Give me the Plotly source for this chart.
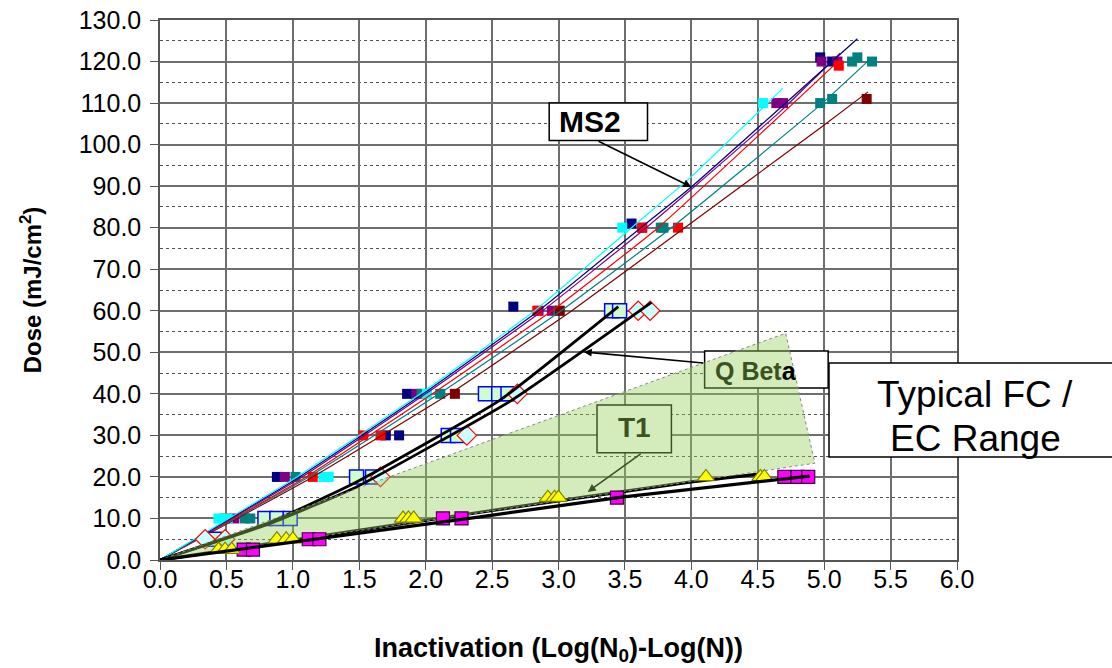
import plotly.graph_objects as go

# ---------------- data ----------------
# MS2 series (dose levels vs inactivation)
ms2_navy_x = [0.88, 1.70, 1.80, 1.86, 2.66, 3.55, 4.97, 5.06]
ms2_navy_y = [20, 30, 30, 40, 61, 81, 121, 120]
ms2_purple_x = [0.56, 0.94, 1.93, 2.85, 2.95, 3.63, 4.64, 4.69, 4.98, 5.10]
ms2_purple_y = [10, 20, 40, 60, 60, 80, 110, 110, 120, 120]
ms2_cyan_x = [0.44, 0.51, 1.23, 1.27, 2.01, 3.48, 4.54]
ms2_cyan_y = [10, 10, 20, 20, 40, 80, 110]
ms2_teal_x = [0.64, 0.68, 1.02, 1.97, 2.11, 3.00, 3.77, 3.79, 4.97, 5.06, 5.21, 5.25, 5.36]
ms2_teal_y = [10, 10, 20, 40, 40, 60, 80, 80, 110, 111, 120, 121, 120]
ms2_red_x = [0.49, 1.15, 1.53, 1.66, 2.84, 3.63, 3.90, 5.11]
ms2_red_y = [10, 20, 30, 30, 60, 80, 80, 119]
ms2_dred_x = [2.22, 3.01, 5.32]
ms2_dred_y = [40, 60, 111]

# MS2 trend lines
ln_cyan_x = [0, 1.03, 1.96, 2.82, 3.55, 3.99, 4.69]
ln_cyan_y = [0, 20, 40, 60, 80, 92, 113.6]
ln_navy_x = [0, 1.05, 1.98, 2.85, 3.62, 4.00, 5.25]
ln_navy_y = [0, 20, 40, 60, 80, 89.8, 125.5]
ln_purple_x = [0, 1.07, 2.00, 2.88, 3.66, 4.02, 4.67, 5.12]
ln_purple_y = [0, 20, 40, 60, 80, 89.8, 108, 122]
ln_red_x = [0, 1.10, 2.05, 2.95, 3.75, 4.82, 5.12]
ln_red_y = [0, 20, 40, 60, 80, 111.5, 120.5]
ln_teal_x = [0, 1.12, 2.10, 3.02, 3.85, 4.97, 5.36]
ln_teal_y = [0, 20, 40, 60, 80, 109.5, 121]
ln_dred_x = [0, 1.15, 2.18, 3.10, 3.95, 4.97, 5.33]
ln_dred_y = [0, 20, 40, 60, 80, 104, 112.7]

# Q Beta
qb_sq_x = [0.41, 0.79, 0.88, 0.98, 1.48, 1.60, 2.17, 2.24, 2.45, 2.55, 2.62, 3.40, 3.46]
qb_sq_y = [5, 10, 10, 10, 20, 20, 30, 30, 40, 40, 40, 60, 60]
qb_di_x = [0.34, 0.49, 1.66, 2.31, 2.69, 3.60, 3.69]
qb_di_y = [5, 5, 20, 30, 40, 60, 60]
qb_lnA_x = [0, 0.83, 1.48, 2.56, 3.45]
qb_lnA_y = [0, 9.1, 18.8, 38.5, 61]
qb_lnB_x = [0, 0.83, 1.48, 2.65, 3.70]
qb_lnB_y = [0, 8.8, 17.6, 38.5, 62]

# T1
t1_tri_x = [0.44, 0.49, 0.54, 0.88, 0.95, 1.00, 1.83, 1.87, 1.91, 2.92, 2.97, 3.00, 4.11, 4.52, 4.55]
t1_tri_y = [2.5, 2.5, 2.5, 5, 5, 5, 10, 10, 10, 15, 15, 15, 20, 20, 20]
t1_sq_x = [0.63, 0.70, 1.12, 1.20, 2.13, 2.27, 3.44, 4.70, 4.80, 4.88]
t1_sq_y = [2.5, 2.5, 5, 5, 10, 10, 15, 20, 20, 20]
t1_up_x = [0, 2.41, 4.00, 4.55]
t1_up_y = [0, 11.5, 18.8, 20.8]
t1_lo_x = [0, 2.41, 3.49, 4.89]
t1_lo_y = [0, 10.4, 15.2, 20.2]

# Typical FC / EC range region
fc_x = [0, 4.71, 4.93, 0]
fc_y = [0, 54.6, 23.3, 0]

x_ticks = [0.0, 0.5, 1.0, 1.5, 2.0, 2.5, 3.0, 3.5, 4.0, 4.5, 5.0, 5.5, 6.0]
y_ticks = [0, 10, 20, 30, 40, 50, 60, 70, 80, 90, 100, 110, 120, 130]

FONT = "Liberation Sans, Arial, sans-serif"
DKGREEN = "#3b5323"

fig = go.Figure()

def markers(x, y, symbol, size, fill, line, lw=1):
    fig.add_trace(go.Scatter(x=x, y=y, mode="markers", showlegend=False, hoverinfo="skip",
                             marker=dict(symbol=symbol, size=size, color=fill,
                                         line=dict(color=line, width=lw))))

def line(x, y, color, width):
    fig.add_trace(go.Scatter(x=x, y=y, mode="lines", showlegend=False, hoverinfo="skip",
                             line=dict(color=color, width=width, shape="spline", smoothing=0.4)))

# MS2 markers
for xs, ys, c in [(ms2_navy_x, ms2_navy_y, "#000080"), (ms2_purple_x, ms2_purple_y, "#800080"),
                  (ms2_teal_x, ms2_teal_y, "#008080"), (ms2_red_x, ms2_red_y, "#ff0000"),
                  (ms2_dred_x, ms2_dred_y, "#800000"), (ms2_cyan_x, ms2_cyan_y, "#00ffff")]:
    markers(xs, ys, "square", 10, c, c, 0)
# MS2 lines
for xs, ys, c in [(ln_dred_x, ln_dred_y, "#800000"), (ln_teal_x, ln_teal_y, "#008080"),
                  (ln_red_x, ln_red_y, "#ff0000"), (ln_purple_x, ln_purple_y, "#800080"),
                  (ln_navy_x, ln_navy_y, "#000080"), (ln_cyan_x, ln_cyan_y, "#00ffff")]:
    line(xs, ys, c, 1.2)

# Q Beta
markers(qb_sq_x, qb_sq_y, "square", 14, "#ccffcc", "#0000ff", 1.5)
markers(qb_di_x, qb_di_y, "diamond", 15, "#ccffff", "#ff0000", 1.2)
line(qb_lnA_x, qb_lnA_y, "black", 2.8)
line(qb_lnB_x, qb_lnB_y, "black", 2.8)

# T1 upper line (under the shaded range)
line(t1_up_x, t1_up_y, "black", 3.2)

# shaded FC/EC range
fig.add_trace(go.Scatter(x=fc_x, y=fc_y, mode="lines", fill="toself", showlegend=False,
                         hoverinfo="skip", fillcolor="rgba(148,208,88,0.4)",
                         line=dict(color="#888888", width=1, dash="dot")))

# T1 markers and lower line
markers(t1_sq_x, t1_sq_y, "square", 13, "#ff00ff", "#400040", 1.2)
markers(t1_tri_x, t1_tri_y, "triangle-up", 15, "#ffff00", "#808000", 1.2)
line(t1_lo_x, t1_lo_y, "black", 3.2)

# ---------------- label boxes ----------------
fig.add_shape(type="rect", xref="x", yref="y", x0=2.93, x1=3.67, y0=101.0, y1=110.0,
              line=dict(color="black", width=1.5), fillcolor="white", layer="between")
fig.add_shape(type="rect", xref="x", yref="y", x0=4.10, x1=5.03, y0=41.4, y1=50.3,
              line=dict(color="black", width=1.5), fillcolor="white", layer="between")
fig.add_shape(type="rect", xref="x", yref="y", x0=3.29, x1=3.85, y0=25.8, y1=37.3,
              line=dict(color="black", width=1.5), fillcolor="white", layer="between")
fig.add_shape(type="rect", xref="paper", yref="paper", x0=0.8394, x1=1.35, y0=0.1907, y1=0.3648,
              line=dict(color="black", width=1.5), fillcolor="white", layer="above")

ann = []
ann.append(dict(x=2.99, y=105.6, xref="x", yref="y", text="<b>MS2</b>", showarrow=False,
                xanchor="left", yanchor="middle", font=dict(family=FONT, size=30, color="black")))
ann.append(dict(x=4.16, y=45.4, xref="x", yref="y",
                text="<b><span style='color:%s'>Q Bet</span>a</b>" % DKGREEN, showarrow=False,
                xanchor="left", yanchor="middle", font=dict(family=FONT, size=25, color="black")))
ann.append(dict(x=3.57, y=31.8, xref="x", yref="y", text="<b>T1</b>", showarrow=False,
                xanchor="center", yanchor="middle", font=dict(family=FONT, size=28, color=DKGREEN)))
ann.append(dict(x=1.0226, y=0.3056, xref="paper", yref="paper", text="Typical FC /", showarrow=False,
                xanchor="center", yanchor="middle", font=dict(family=FONT, size=37, color="black")))
ann.append(dict(x=1.0226, y=0.2241, xref="paper", yref="paper", text="EC Range", showarrow=False,
                xanchor="center", yanchor="middle", font=dict(family=FONT, size=37, color="black")))
# arrows
for (hx, hy, tx, ty, col) in [(4.00, 89.8, 3.29, 101.0, "black"),
                              (3.19, 50.1, 4.10, 47.4, "black"),
                              (3.22, 16.4, 3.63, 25.8, DKGREEN)]:
    ann.append(dict(x=hx, y=hy, ax=tx, ay=ty, xref="x", yref="y", axref="x", ayref="y",
                    text="", showarrow=True, arrowhead=2, arrowsize=1, arrowwidth=1.6,
                    arrowcolor=col, standoff=0, startstandoff=0))

fig.update_layout(
    width=1112, height=668,
    margin=dict(l=160, r=155, t=20, b=108, autoexpand=False),
    paper_bgcolor="white", plot_bgcolor="white",
    font=dict(family=FONT, color="black"),
    annotations=ann,
    showlegend=False,
)
fig.update_xaxes(range=[0, 6], tickvals=x_ticks, tickformat=".1f", automargin=False,
                 ticklabeloverflow="allow", ticklabelstandoff=-12,
                 showgrid=True, gridcolor="#6e6e6e", gridwidth=1.5,
                 showline=True, linecolor="#555555", linewidth=1.5, mirror=True,
                 ticks="outside", ticklen=8, tickcolor="#555555",
                 tickfont=dict(family=FONT, size=25, color="black"),
                 title=dict(text="<b>Inactivation (Log(N<sub>0</sub>)-Log(N))</b>",
                            font=dict(family=FONT, size=27, color="black"), standoff=46),
                 zeroline=False)
fig.update_yaxes(range=[0, 130], tickvals=y_ticks, tickformat=".1f", automargin=False,
                 ticklabeloverflow="allow", ticklabelstandoff=4,
                 showgrid=True, gridcolor="#6e6e6e", gridwidth=1.5,
                 minor=dict(dtick=5, showgrid=True, gridcolor="#505050", griddash="dot", gridwidth=1),
                 showline=True, linecolor="#555555", linewidth=1.5, mirror=True,
                 ticks="outside", ticklen=8, tickcolor="#555555",
                 tickfont=dict(family=FONT, size=25, color="black"),
                 title=dict(text="<b>Dose (mJ/cm<sup>2</sup>)</b>",
                            font=dict(family=FONT, size=24, color="black"), standoff=30),
                 zeroline=False)

# remove the page's default body margin so the figure sits at the window's corner
fig.write_html("out.html", config={"displayModeBar": False},
               post_script="document.body.style.margin='0';")
